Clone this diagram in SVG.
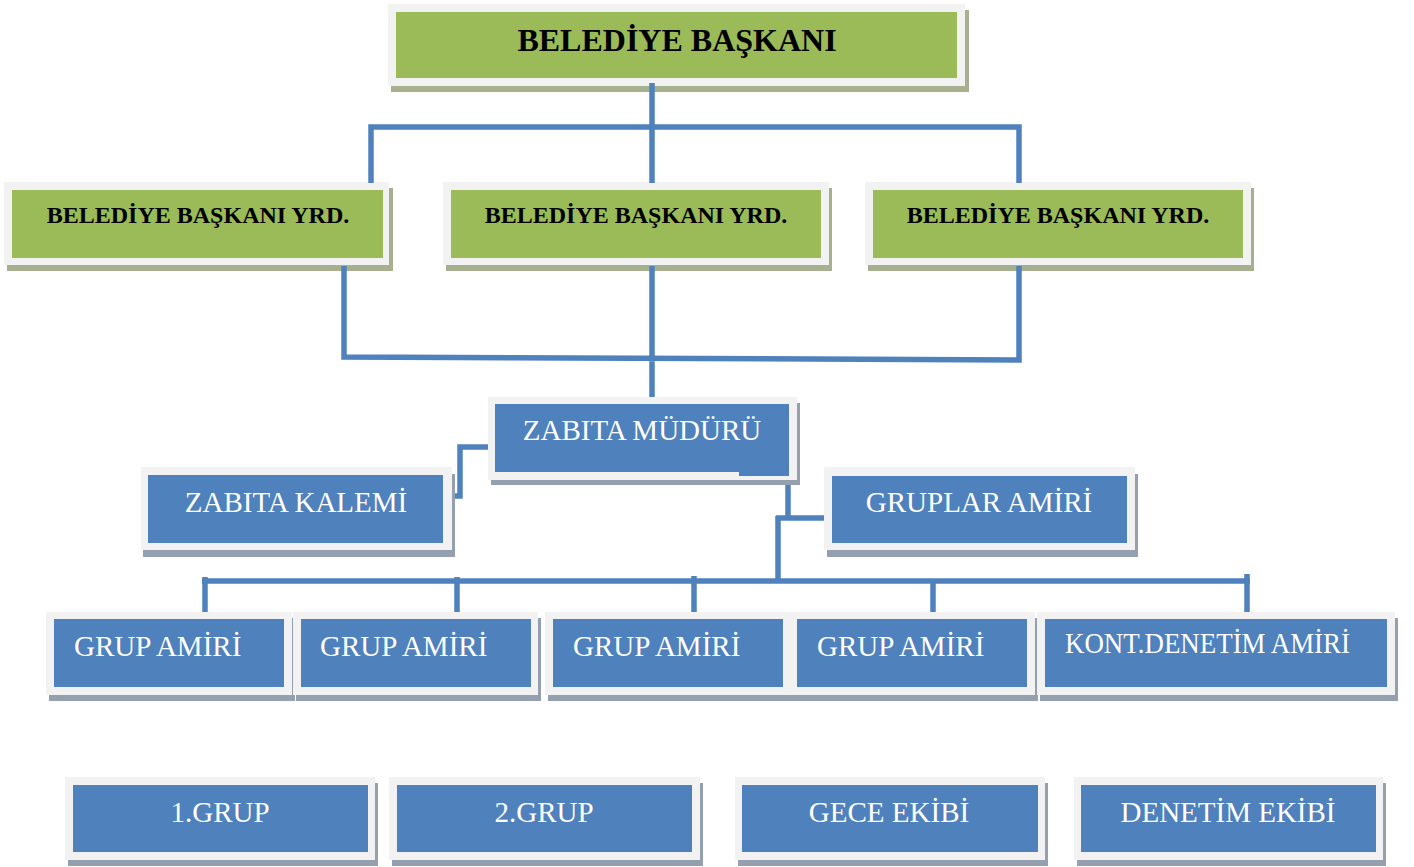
<svg xmlns="http://www.w3.org/2000/svg" width="1414" height="867" viewBox="0 0 1414 867">
<style>
.frame{fill:#f2f2f2}
.gs{fill:#a6b08e}
.bs{fill:#94a0b0}
.green{fill:#9bbb59}
.blue{fill:#4f81bd}
.tb{font-family:"Liberation Serif","Times New Roman",serif;font-weight:bold;fill:#000;text-anchor:middle}
.tw{font-family:"Liberation Serif","Times New Roman",serif;fill:#fff;font-size:29px}
.c{text-anchor:middle}
.ln{fill:none;stroke:#4f81bd;stroke-width:5.5}
</style>
<rect width="1414" height="867" fill="#fff"/>
<g id="n-baskan">
<rect class="gs" x="391" y="10" width="578" height="82"/>
<rect class="frame" x="388" y="4" width="577" height="82"/>
<rect class="green" x="396" y="12" width="561" height="66"/>
<text class="tb" x="677" y="51" font-size="32">BELEDİYE BAŞKANI</text>
</g>
<g id="n-yrd1">
<rect class="gs" x="7" y="188" width="386" height="83"/>
<rect class="frame" x="4" y="182" width="385" height="83"/>
<rect class="green" x="12" y="190" width="371" height="68"/>
<text class="tb" x="198" y="223" font-size="24">BELEDİYE BAŞKANI YRD.</text>
</g>
<g id="n-yrd2">
<rect class="gs" x="446" y="188" width="386" height="83"/>
<rect class="frame" x="443" y="182" width="386" height="83"/>
<rect class="green" x="451" y="190" width="370" height="68"/>
<text class="tb" x="636" y="223" font-size="24">BELEDİYE BAŞKANI YRD.</text>
</g>
<g id="n-yrd3">
<rect class="gs" x="868" y="188" width="386" height="83"/>
<rect class="frame" x="865" y="182" width="386" height="83"/>
<rect class="green" x="873" y="190" width="370" height="68"/>
<text class="tb" x="1058" y="223" font-size="24">BELEDİYE BAŞKANI YRD.</text>
</g>
<g id="connectors">
<path class="ln" d="M652,83 V183 M371,183 V127 H1019 V183"/>
<path class="ln" d="M344,266 V357 L1019,360 V266 M652,266 V404"/>
<path class="ln" d="M491,447 H460 V496 H443"/>
<path class="ln" d="M740,474 H788 V518 M776,518 H832 M778,516 V581"/>
<path class="ln" d="M202,581 H1250 M205,577 V617 M457,577 V617 M694,576 V617 M933,581 V612 M1247,574 V612"/>
</g>
<g id="n-mudur">
<rect class="bs" x="491" y="403" width="309" height="82"/>
<rect class="frame" x="488" y="397" width="309" height="83"/>
<rect class="blue" x="495" y="404" width="294" height="68"/>
<text class="tw c" x="642" y="440">ZABITA MÜDÜRÜ</text>
</g>
<rect class="blue" x="739" y="470" width="50" height="6"/>
<g id="n-kalem">
<rect class="bs" x="143" y="474" width="312" height="83"/>
<rect class="frame" x="141" y="467" width="311" height="83"/>
<rect class="blue" x="148" y="475" width="295" height="68"/>
<text class="tw c" x="296" y="512">ZABITA KALEMİ</text>
</g>
<g id="n-gruplar">
<rect class="bs" x="827" y="474" width="311" height="83"/>
<rect class="frame" x="824" y="467" width="311" height="83"/>
<rect class="blue" x="832" y="476" width="295" height="67"/>
<text class="tw c" x="979" y="512">GRUPLAR AMİRİ</text>
</g>
<g id="n-ga1">
<rect class="bs" x="49" y="618" width="246" height="83"/>
<rect class="frame" x="46" y="612" width="246" height="83"/>
<rect class="blue" x="54" y="619" width="230" height="68"/>
<text class="tw" x="74" y="656">GRUP AMİRİ</text>
</g>
<g id="n-ga2">
<rect class="bs" x="296" y="618" width="245" height="83"/>
<rect class="frame" x="293" y="612" width="245" height="83"/>
<rect class="blue" x="301" y="619" width="230" height="68"/>
<text class="tw" x="320" y="656">GRUP AMİRİ</text>
</g>
<g id="n-ga3">
<rect class="bs" x="548" y="618" width="245" height="83"/>
<rect class="frame" x="545" y="612" width="245" height="83"/>
<rect class="blue" x="553" y="619" width="230" height="68"/>
<text class="tw" x="573" y="656">GRUP AMİRİ</text>
</g>
<g id="n-ga4">
<rect class="bs" x="793" y="618" width="245" height="83"/>
<rect class="frame" x="790" y="612" width="245" height="83"/>
<rect class="blue" x="797" y="619" width="230" height="68"/>
<text class="tw" x="817" y="656">GRUP AMİRİ</text>
</g>
<g id="n-kont">
<rect class="bs" x="1040" y="618" width="358" height="83"/>
<rect class="frame" x="1037" y="612" width="358" height="83"/>
<rect class="blue" x="1045" y="619" width="342" height="68"/>
<text class="tw" x="1065" y="653" font-size="26" textLength="285" lengthAdjust="spacingAndGlyphs">KONT.DENETİM AMİRİ</text>
</g>
<g id="n-grup1">
<rect class="bs" x="68" y="783" width="310" height="83"/>
<rect class="frame" x="65" y="777" width="310" height="83"/>
<rect class="blue" x="73" y="785" width="295" height="67"/>
<text class="tw c" x="220" y="822">1.GRUP</text>
</g>
<g id="n-grup2">
<rect class="bs" x="392" y="783" width="311" height="83"/>
<rect class="frame" x="389" y="777" width="311" height="83"/>
<rect class="blue" x="397" y="785" width="295" height="67"/>
<text class="tw c" x="544" y="822">2.GRUP</text>
</g>
<g id="n-gece">
<rect class="bs" x="738" y="783" width="310" height="83"/>
<rect class="frame" x="735" y="777" width="310" height="83"/>
<rect class="blue" x="742" y="785" width="296" height="67"/>
<text class="tw c" x="889" y="822">GECE EKİBİ</text>
</g>
<g id="n-denetim">
<rect class="bs" x="1077" y="783" width="309" height="83"/>
<rect class="frame" x="1074" y="777" width="309" height="83"/>
<rect class="blue" x="1081" y="785" width="295" height="67"/>
<text class="tw c" x="1228" y="822">DENETİM EKİBİ</text>
</g>
</svg>
